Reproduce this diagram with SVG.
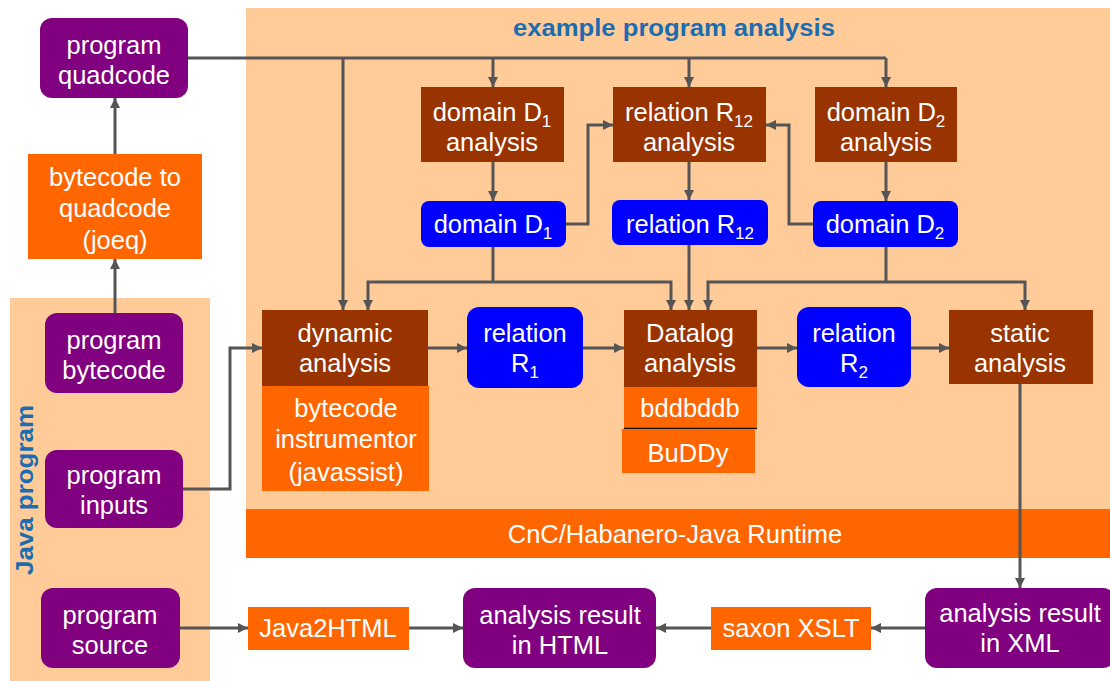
<svg xmlns="http://www.w3.org/2000/svg" width="1110" height="681" viewBox="0 0 1110 681">
<style>
.t{font-family:"Liberation Sans",Arial,sans-serif;font-size:25.5px;fill:#fff;text-anchor:middle}
.s{font-size:17px}
.pur{fill:#800080}
.brn{fill:#993300}
.org{fill:#FF6600}
.blu{fill:#0000FF}
.ln{fill:none;stroke:#555;stroke-width:3;marker-end:url(#ah)}
.ln0{fill:none;stroke:#555;stroke-width:3}
.ttl{font-family:"Liberation Sans",Arial,sans-serif;font-weight:bold;font-size:23px;fill:#1B6DB0;text-anchor:middle}
</style>
<defs>
<marker id="ah" markerUnits="userSpaceOnUse" markerWidth="12" markerHeight="12" refX="10" refY="5" orient="auto">
<path d="M0,0 L10,5 L0,10 z" fill="#555"/>
</marker>
</defs>
<rect width="1110" height="681" fill="#fff"/>
<g id="panel-analysis">
<rect x="246" y="8" width="864" height="502" fill="#FFCC99"/>
<text class="ttl" x="674" y="36" textLength="322" lengthAdjust="spacingAndGlyphs">example program analysis</text>
</g>
<g id="panel-java">
<rect x="10" y="298" width="200" height="383" fill="#FFCC99"/>
<text class="ttl" transform="translate(33,490) rotate(-90)" textLength="170" lengthAdjust="spacingAndGlyphs">Java program</text>
</g>
<g id="cnc">
<rect x="246" y="509" width="864" height="49" class="org"/>
<text class="t" x="675" y="543">CnC/Habanero-Java Runtime</text>
</g>
<g id="connectors">
<path class="ln0" d="M188,58 H886"/>
<path class="ln" d="M343,58 V310"/>
<path class="ln" d="M493,58 V87"/>
<path class="ln" d="M689,58 V87"/>
<path class="ln" d="M886,58 V87"/>
<path class="ln" d="M115,154 V98"/>
<path class="ln" d="M115,313 V259"/>
<path class="ln" d="M493,162 V201"/>
<path class="ln" d="M689,162 V200"/>
<path class="ln" d="M886,162 V201"/>
<path class="ln" d="M566,224 H588 V125 H613"/>
<path class="ln" d="M813,224 H789 V125 H766"/>
<path class="ln0" d="M493,247 V282"/>
<path class="ln" d="M493,282 H368 V310"/>
<path class="ln" d="M493,282 H671 V310"/>
<path class="ln" d="M689,245 V310"/>
<path class="ln0" d="M886,247 V282"/>
<path class="ln" d="M886,282 H708 V310"/>
<path class="ln" d="M886,282 H1025 V310"/>
<path class="ln" d="M183,489 H230 V348 H262"/>
<path class="ln" d="M428,348 H467"/>
<path class="ln" d="M583,348 H624"/>
<path class="ln" d="M757,348 H797"/>
<path class="ln" d="M911,348 H949"/>
<path class="ln" d="M1020,384 V588"/>
<path class="ln" d="M925,628 H871"/>
<path class="ln" d="M711,628 H656"/>
<path class="ln" d="M409,628 H463"/>
<path class="ln" d="M180,628 H248"/>
</g>
<g id="program-quadcode">
<rect x="40" y="18" width="148" height="80" rx="12" class="pur"/>
<text class="t" x="114" y="54">program</text>
<text class="t" x="114" y="84">quadcode</text>
</g>
<g id="bytecode-to-quadcode">
<rect x="28" y="154" width="174" height="105" class="org"/>
<text class="t" x="115" y="186">bytecode to</text>
<text class="t" x="115" y="217">quadcode</text>
<text class="t" x="115" y="249">(joeq)</text>
</g>
<g id="program-bytecode">
<rect x="45" y="313" width="138" height="80" rx="12" class="pur"/>
<text class="t" x="114" y="349">program</text>
<text class="t" x="114" y="379">bytecode</text>
</g>
<g id="program-inputs">
<rect x="45" y="450" width="138" height="78" rx="12" class="pur"/>
<text class="t" x="114" y="484">program</text>
<text class="t" x="114" y="514">inputs</text>
</g>
<g id="program-source">
<rect x="41" y="588" width="139" height="80" rx="12" class="pur"/>
<text class="t" x="110" y="624">program</text>
<text class="t" x="110" y="654">source</text>
</g>
<g id="java2html">
<rect x="248" y="607" width="161" height="43" class="org"/>
<text class="t" x="328" y="637">Java2HTML</text>
</g>
<g id="dynamic-analysis">
<rect x="262" y="310" width="166" height="76" class="brn"/>
<text class="t" x="345" y="342">dynamic</text>
<text class="t" x="345" y="372">analysis</text>
</g>
<g id="bytecode-instrumentor">
<rect x="262" y="386" width="167" height="105" class="org"/>
<text class="t" x="346" y="417">bytecode</text>
<text class="t" x="346" y="448">instrumentor</text>
<text class="t" x="346" y="481">(javassist)</text>
</g>
<g id="relation-r1">
<rect x="467" y="307" width="116" height="81" rx="12" class="blu"/>
<text class="t" x="525" y="342">relation</text>
<text class="t" x="525" y="372">R<tspan class="s" dy="6">1</tspan></text>
</g>
<g id="datalog-analysis">
<rect x="624" y="310" width="133" height="77" class="brn"/>
<text class="t" x="690" y="342">Datalog</text>
<text class="t" x="690" y="372">analysis</text>
</g>
<g id="bddbddb">
<rect x="624" y="387" width="133" height="41" class="org"/>
<text class="t" x="690" y="417">bddbddb</text>
<path d="M624,428.5 H757" stroke="#111" stroke-width="1.5"/>
</g>
<g id="buddy">
<rect x="622" y="429" width="133" height="44" class="org"/>
<text class="t" x="688" y="462">BuDDy</text>
</g>
<g id="relation-r2">
<rect x="797" y="307" width="114" height="80" rx="12" class="blu"/>
<text class="t" x="854" y="342">relation</text>
<text class="t" x="854" y="372">R<tspan class="s" dy="6">2</tspan></text>
</g>
<g id="static-analysis">
<rect x="949" y="310" width="144" height="74" class="brn"/>
<text class="t" x="1020" y="342">static</text>
<text class="t" x="1020" y="372">analysis</text>
</g>
<g id="domain-d1-analysis">
<rect x="421" y="87" width="143" height="75" class="brn"/>
<text class="t" x="492" y="121">domain D<tspan class="s" dy="6">1</tspan></text>
<text class="t" x="492" y="151">analysis</text>
</g>
<g id="relation-r12-analysis">
<rect x="613" y="87" width="153" height="75" class="brn"/>
<text class="t" x="689" y="121">relation R<tspan class="s" dy="6">12</tspan></text>
<text class="t" x="689" y="151">analysis</text>
</g>
<g id="domain-d2-analysis">
<rect x="815" y="87" width="142" height="75" class="brn"/>
<text class="t" x="886" y="121">domain D<tspan class="s" dy="6">2</tspan></text>
<text class="t" x="886" y="151">analysis</text>
</g>
<g id="domain-d1">
<rect x="421" y="201" width="145" height="46" rx="8" class="blu"/>
<text class="t" x="493" y="233">domain D<tspan class="s" dy="6">1</tspan></text>
</g>
<g id="relation-r12">
<rect x="612" y="200" width="156" height="45" rx="8" class="blu"/>
<text class="t" x="690" y="233">relation R<tspan class="s" dy="6">12</tspan></text>
</g>
<g id="domain-d2">
<rect x="813" y="201" width="145" height="46" rx="8" class="blu"/>
<text class="t" x="885" y="233">domain D<tspan class="s" dy="6">2</tspan></text>
</g>
<g id="analysis-result-xml">
<rect x="925" y="588" width="190" height="80" rx="12" class="pur"/>
<text class="t" x="1020" y="622">analysis result</text>
<text class="t" x="1020" y="652">in XML</text>
</g>
<g id="saxon-xslt">
<rect x="711" y="607" width="160" height="43" class="org"/>
<text class="t" x="791" y="637">saxon XSLT</text>
</g>
<g id="analysis-result-html">
<rect x="463" y="588" width="193" height="80" rx="12" class="pur"/>
<text class="t" x="560" y="624">analysis result</text>
<text class="t" x="560" y="654">in HTML</text>
</g>
</svg>
